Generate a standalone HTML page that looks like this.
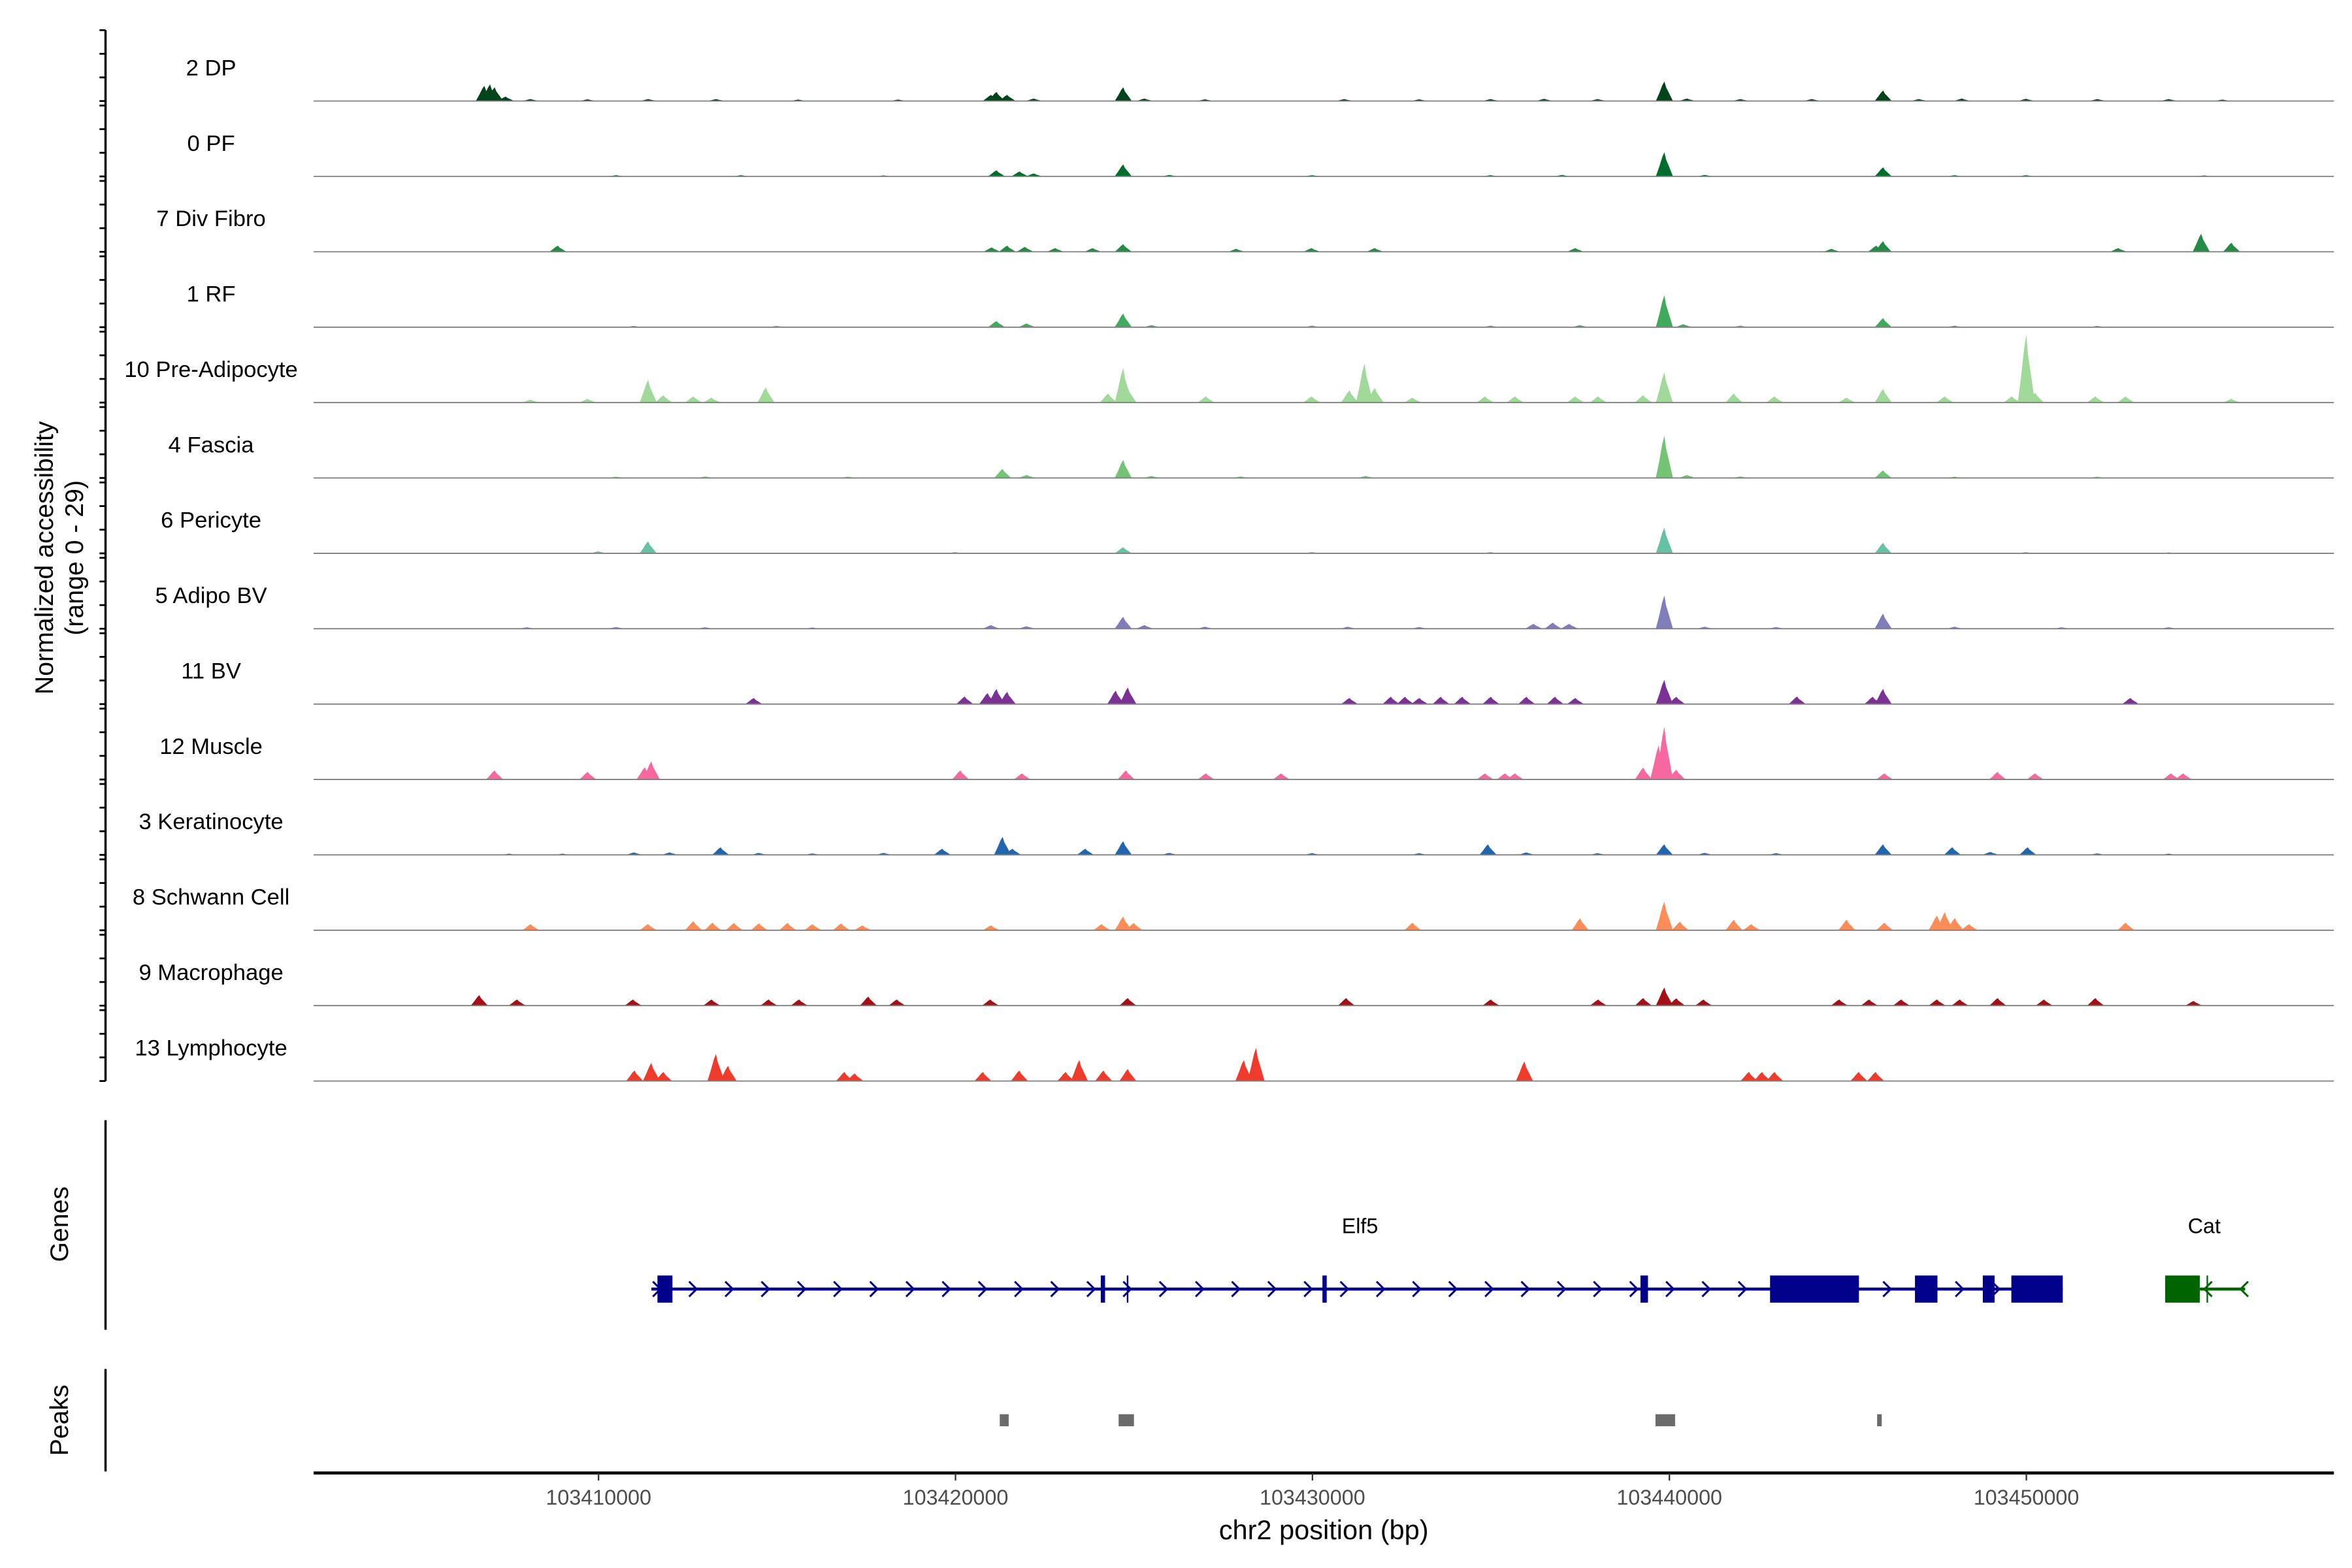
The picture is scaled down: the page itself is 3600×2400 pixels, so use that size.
<!DOCTYPE html>
<html><head><meta charset="utf-8"><style>
html,body{margin:0;padding:0;background:#fff}
svg{display:block;font-family:"Liberation Sans",sans-serif}
</style></head><body>
<svg id="chart" width="3600" height="2400" viewBox="0 0 1560 1040" xmlns="http://www.w3.org/2000/svg">
<rect width="1560" height="1040" fill="#fff"/>
<g id="tracks"></g>
<g id="yaxis"></g>
<text transform="translate(35,370) rotate(-90)" text-anchor="middle" font-size="17">Normalized accessibility</text>
<text transform="translate(55,370) rotate(-90)" text-anchor="middle" font-size="17">(range 0 - 29)</text>
<line x1="70" y1="743" x2="70" y2="882" stroke="#000" stroke-width="1.5"/>
<text transform="translate(45,812) rotate(-90)" text-anchor="middle" font-size="17">Genes</text>
<line x1="70" y1="908" x2="70" y2="976" stroke="#000" stroke-width="1.5"/>
<text transform="translate(45,942) rotate(-90)" text-anchor="middle" font-size="17">Peaks</text>
<g id="genes"></g>
<g id="peaks"></g>
<g id="xaxis"></g>
<text x="878" y="1021" text-anchor="middle" font-size="18">chr2 position (bp)</text>
</svg>
<script>
// positions in kb offset from 103400000; values normalized 0-29
const trackNames = ["2 DP","0 PF","7 Div Fibro","1 RF","10 Pre-Adipocyte","4 Fascia","6 Pericyte","5 Adipo BV","11 BV","12 Muscle","3 Keratinocyte","8 Schwann Cell","9 Macrophage","13 Lymphocyte"];
const trackColors = ["#00441b","#006d2c","#238b45","#41ab5d","#a1d99b","#74c476","#66c2a4","#807dba","#7b3294","#f768a1","#2166ac","#fc8d59","#a50f15","#ef3b2c"];
const dpPeaks = [[6.8,6.2],[6.96,6.8],[7.09,5.6],[7.4,1.8],[8.1,0.8],[9.7,0.7],[11.4,0.8],[13.3,0.8],[15.6,0.6],[18.4,0.6],[21.0,2.5],[21.15,3.7],[21.45,2.5],[22.2,1],[24.7,5.6],[25.3,1],[27,0.7],[30.9,0.8],[33,0.7],[35,0.8],[36.5,0.9],[38,0.8],[39.86,8],[40.5,1],[42,0.8],[44,0.8],[45.99,4.3],[47,0.8],[48.2,1],[50,0.9],[52,0.8],[54,0.8],[55.5,0.6]];
const pfPeaks = [[10.5,0.5],[14,0.5],[18,0.4],[21.15,2.5],[21.8,2],[22.2,1.2],[24.7,4.9],[26,0.6],[30,0.5],[35,0.5],[37,0.6],[39.86,9.9],[41,0.6],[45.99,3.7],[48,0.5],[50,0.5],[55,0.4]];
const divPeaks = [[8.86,2.5],[21.02,1.8],[21.45,2.5],[21.95,2],[22.8,1.5],[23.85,1.5],[24.7,3.1],[27.87,1.2],[29.98,1.5],[31.75,1.5],[37.37,1.5],[44.55,1.2],[45.8,2.5],[45.99,4.3],[52.58,1.5],[54.9,7.4],[55.75,3.7]];
const rfPeaks = [[11,0.5],[15,0.5],[21.15,2.5],[22,1.5],[24.7,5.6],[25.5,0.8],[30,0.6],[35,0.6],[37.5,0.8],[39.86,13],[40.4,1.2],[42,0.6],[45.99,3.7],[48,0.6],[52,0.5]];
const preadipoPeaks = [[8.1,1.2],[9.7,1.5],[11.39,9.3],[11.82,3],[12.66,2.5],[13.17,2],[14.69,6.2],[24.28,3.7],[24.7,14.2],[24.83,6],[27.02,2.5],[29.98,2.5],[31.04,5],[31.46,16],[31.75,6],[32.81,2],[34.84,2.5],[35.68,2.5],[37.37,2.5],[38.01,2.5],[39.27,3],[39.86,12.3],[41.81,3.7],[42.95,2.5],[44.97,2],[45.99,5.6],[47.72,2.5],[49.6,2.5],[50,27.8],[50.25,4],[51.94,2.5],[52.79,2.5],[55.75,1.5]];
const fasciaPeaks = [[10.5,0.5],[13,0.6],[17,0.5],[21.32,3.7],[22,1.2],[24.7,7.4],[25.5,0.8],[28,0.6],[31.5,0.8],[39.86,17.3],[40.5,1.2],[42,0.6],[45.99,3.1],[48,0.5],[52,0.5]];
const pericytePeaks = [[10,0.8],[11.39,4.9],[20,0.5],[24.7,2.5],[30,0.5],[35,0.5],[39.86,10.5],[45.99,4.3],[50,0.5],[54,0.4]];
const adipoBvPeaks = [[8,0.6],[10.5,0.7],[13,0.6],[16,0.5],[21,1.5],[22,1],[24.7,4.9],[25.3,1.5],[27,0.8],[31,0.8],[33,0.7],[36.2,2],[36.74,2.5],[37.2,2],[39.86,13.6],[41,0.8],[43,0.7],[45.99,6.2],[48,0.8],[51,0.6],[54,0.6]];
const bvPeaks = [[14.35,2.5],[20.26,3.1],[20.9,4.5],[21.15,6.2],[21.45,5],[24.49,5.5],[24.83,6.8],[31.04,2.5],[32.2,3],[32.6,3],[33,2.5],[33.6,3],[34.2,3],[35,3],[36,3],[36.8,3],[37.37,2.5],[39.86,9.9],[40.2,3],[43.58,3.1],[45.7,3],[45.99,6.2],[52.92,2.5]];
const musclePeaks = [[7.09,3.7],[9.7,3.1],[11.3,5],[11.48,7.4],[20.14,3.7],[21.87,2.5],[24.78,3.7],[27.02,2.5],[29.13,2.5],[34.84,2.5],[35.4,2.5],[35.68,2.5],[39.27,4.9],[39.7,14],[39.86,21.6],[40.2,4],[46.03,2.5],[49.2,3.1],[50.25,2.5],[54.06,2.5],[54.4,2.5]];
const keratinoPeaks = [[7.5,0.5],[9,0.5],[11,1],[12,1],[13.42,3.1],[14.5,0.8],[16,0.6],[18,0.8],[19.63,2.5],[21.32,7.4],[21.6,2.5],[23.64,2.5],[24.7,5.6],[26,0.8],[30,0.7],[33,0.7],[34.92,4.3],[36,1],[38,0.7],[39.86,4.3],[41,0.8],[43,0.7],[45.99,4.3],[47.93,3.1],[49,1.2],[50.04,3.1],[52,0.6],[54,0.5]];
const schwannPeaks = [[8.1,2.5],[11.39,2.5],[12.66,3.7],[13.2,3.1],[13.8,3],[14.5,2.8],[15.3,3],[16,2.5],[16.8,2.8],[17.4,2],[21,2],[24.1,2.5],[24.7,5.6],[25,3],[32.81,3.1],[37.5,4.9],[39.86,11.7],[40.3,3.5],[41.81,4.3],[42.3,2.5],[44.97,4.3],[46.03,3.1],[47.5,6],[47.72,7.4],[48,5],[48.4,2.5],[52.79,3.1]];
const macroPeaks = [[6.66,4.3],[7.72,2.5],[10.97,2.5],[13.17,2.5],[14.77,2.5],[15.62,2.5],[17.56,3.7],[18.36,2.5],[20.98,2.5],[24.83,3.1],[30.95,3.1],[35,2.5],[38.01,2.5],[39.27,3.1],[39.86,7.4],[40.2,3],[40.96,2.5],[44.76,2.5],[45.6,2.5],[46.5,2.5],[47.5,2.5],[48.14,2.5],[49.2,3.1],[50.5,2.5],[51.94,3.1],[54.69,1.9]];
const lymphoPeaks = [[11.01,4.3],[11.48,7.4],[11.82,3.7],[13.29,11.1],[13.63,6.2],[16.89,3.7],[17.18,3.1],[20.77,3.7],[21.79,4.3],[23.09,3.7],[23.47,8.6],[24.15,4.3],[24.83,4.9],[28.08,8.6],[28.42,13.6],[35.94,8],[42.23,3.7],[42.6,3.7],[42.95,3.7],[45.31,3.7],[45.78,3.7]];
const trackPeaks = [dpPeaks,pfPeaks,divPeaks,rfPeaks,preadipoPeaks,fasciaPeaks,pericytePeaks,adipoBvPeaks,bvPeaks,musclePeaks,keratinoPeaks,schwannPeaks,macroPeaks,lymphoPeaks];
const xTicks = [10,20,30,40,50];
const xTickLabels = ["103410000","103420000","103430000","103440000","103450000"];
const elf5Exons = [[11.65,12.07],[24.07,24.19],[30.28,30.40],[39.19,39.40],[42.82,45.31],[46.88,47.51],[48.78,49.11],[49.58,51.02]];
const elf5Span = [11.48,51.02];
const catExons = [[53.89,54.86]];
const catSpan = [53.89,56.13];
const peakRegions = [[21.24,21.49],[24.57,25.0],[39.61,40.16],[45.82,45.95]];

const NS='http://www.w3.org/2000/svg';
const X0=208,X1=1548;
const xs = kb => 397 + (kb-10)*23.675;
const vs = v => v/29*47;
function mk(tag, attrs, parent){const e=document.createElementNS(NS,tag);for(const k in attrs)e.setAttribute(k,attrs[k]);parent.appendChild(e);return e;}
const tracks=document.getElementById('tracks');
const yaxis=document.getElementById('yaxis');
const ax=mk('line',{x1:70,y1:20,x2:70,y2:717,stroke:'#000','stroke-width':1.5},yaxis);


const W=0.24;
trackNames.forEach((name,i)=>{
  const top=20+i*50, base=top+47;
  const g=mk('g',{},tracks);
  
  
  for(let k=0;k<4;k++){
    const t=mk('line',{x1:66,x2:70,y1:top+k*15.67,y2:top+k*15.67,stroke:'#000','stroke-width':1.2},yaxis);
    
    
  }
  const lab=mk('text',{x:140,y:base-17,'text-anchor':'middle','font-size':15,fill:'#000'},g);
  lab.textContent=name;
  
  
  trackPeaks[i].forEach(([p,v])=>{
    const h=vs(v);
    const pts=[[p-W,0],[p-W*0.6,h*0.4],[p-W*0.25,h*0.8],[p,h],[p+W*0.2,h*0.7],[p+W*0.55,h*0.4],[p+W,0]];
    const poly=mk('polygon',{points:pts.map(q=>xs(q[0]).toFixed(2)+','+(base-q[1]).toFixed(2)).join(' '),fill:trackColors[i]},g);
    
    
  });
  const bl=mk('line',{x1:X0,x2:X1,y1:base,y2:base,stroke:'#7f7f7f','stroke-width':0.8},g);
  
  
});
// genes
const genes=document.getElementById('genes');
function drawGene(span,exons,color,dir,name,lx){
  const g=mk('g',{},genes);
  
  
  const y=855;
  mk('line',{x1:xs(span[0]),x2:xs(span[1]),y1:y,y2:y,stroke:color,'stroke-width':2},g);
  for(let x=xs(span[0])+4;x<xs(span[1]);x+=24){
    mk('polyline',{points:`${x-3*dir},${y-5} ${x+2*dir},${y} ${x-3*dir},${y+5}`,fill:'none',stroke:color,'stroke-width':1.3},g);
  }
  exons.forEach(([a,b])=>{
    const r=mk('rect',{x:xs(a),y:y-9,width:Math.max(xs(b)-xs(a),1.5),height:18,fill:color},g);
    
    
  });
  const t=mk('text',{x:lx,y:818,'text-anchor':'middle','font-size':14},g);
  t.textContent=name;
  
  
}
drawGene(elf5Span,elf5Exons,'#00008b',1,'Elf5',902);
drawGene(catSpan,catExons,'#006400',-1,'Cat',1462);
mk('line',{x1:xs(24.82),x2:xs(24.82),y1:846,y2:864,stroke:'#00008b','stroke-width':1},genes);
mk('line',{x1:xs(55.07),x2:xs(55.07),y1:846,y2:864,stroke:'#006400','stroke-width':1},genes);
// peaks
const peaks=document.getElementById('peaks');
peakRegions.forEach(([a,b])=>{
  const r=mk('rect',{x:xs(a),y:938,width:Math.max(xs(b)-xs(a),2.5),height:8,fill:'#6b6b6b'},peaks);
  
  
});
// x axis
const xaxis=document.getElementById('xaxis');
mk('line',{x1:X0,x2:X1,y1:977,y2:977,stroke:'#000','stroke-width':2},xaxis);
xTicks.forEach((t,i)=>{
  const tk=mk('line',{x1:xs(t),x2:xs(t),y1:977,y2:982,stroke:'#333','stroke-width':1},xaxis);
  
  
  const tl=mk('text',{x:xs(t),y:998,'text-anchor':'middle','font-size':14,fill:'#4d4d4d'},xaxis);
  tl.textContent=xTickLabels[i];
  
  
});
</script>
</body></html>
